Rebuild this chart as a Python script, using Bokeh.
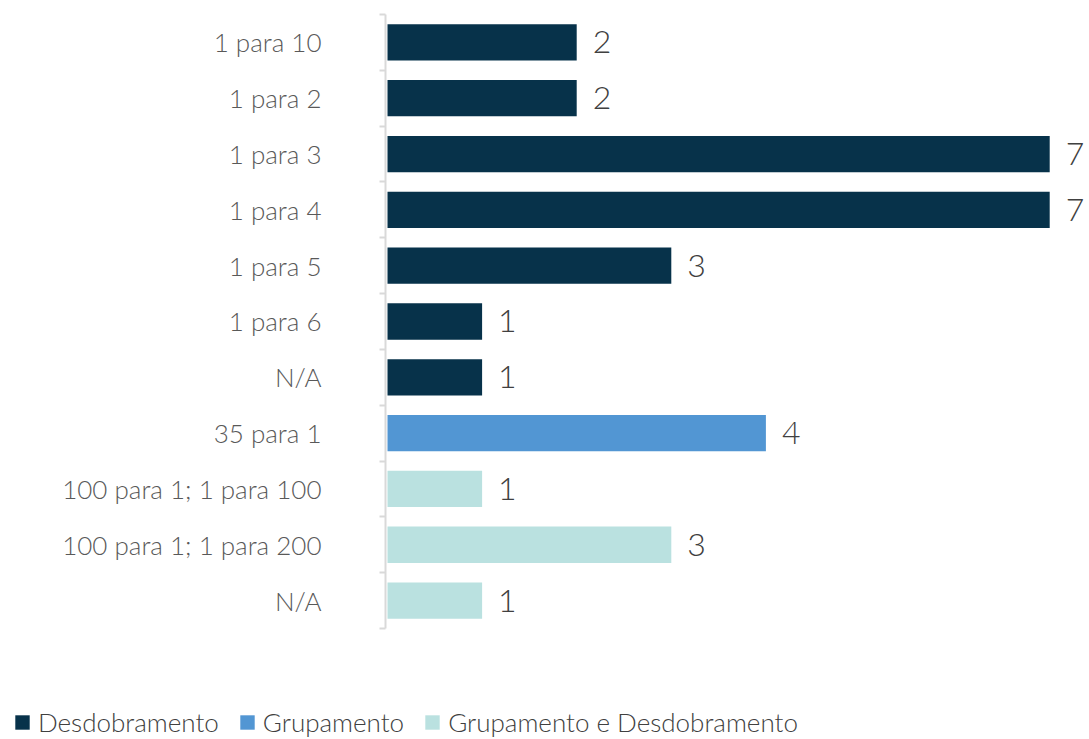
from bokeh.plotting import figure
from bokeh.models import ColumnDataSource, Range1d, LinearAxis, FixedTicker, Legend
from bokeh.embed import file_html
from bokeh.resources import INLINE
from bokeh.core.properties import value

categories = ["1 para 10", "1 para 2", "1 para 3", "1 para 4", "1 para 5", "1 para 6", "N/A",
              "35 para 1", "100 para 1; 1 para 100", "100 para 1; 1 para 200", "N/A"]
values = [2, 2, 7, 7, 3, 1, 1, 4, 1, 3, 1]
groups = ["Desdobramento"] * 7 + ["Grupamento"] + ["Grupamento e Desdobramento"] * 3
group_names = ["Desdobramento", "Grupamento", "Grupamento e Desdobramento"]
group_colors = ["#07324A", "#5296D3", "#BAE1E0"]

FONT = "Lato Light"
n = len(categories)
pos = [i + 0.5 for i in range(n)]

PX_X = 94.6   # px per unit on x
PX_Y = 55.8   # px per category
p = figure(width=1089, height=739, output_backend="svg", toolbar_location=None,
           x_range=Range1d(-387 / PX_X, (1089 - 387) / PX_X),
           y_range=Range1d(n + (739 - 628) / PX_Y, -14 / PX_Y),
           min_border=0)
p.outline_line_color = None
p.xgrid.visible = False
p.ygrid.visible = False
p.xaxis.visible = False
p.yaxis.visible = False

# tick axis (category boundaries)
ya = LinearAxis(ticker=FixedTicker(ticks=list(range(n + 1))), fixed_location=-2 / PX_X,
                bounds=(0, n))
ya.major_label_overrides = {i: "" for i in range(n + 1)}
ya.major_label_text_font_size = "1px"
ya.major_label_standoff = 0
ya.axis_line_color = "#D9D9D9"
ya.axis_line_width = 2
ya.major_tick_line_color = "#D9D9D9"
ya.major_tick_line_width = 2
ya.major_tick_out = 6
ya.major_tick_in = 0
ya.minor_tick_line_color = None
p.add_layout(ya, "left")

# label axis
la = LinearAxis(ticker=FixedTicker(ticks=pos), fixed_location=-2 / PX_X,
                major_label_overrides={pos[i]: categories[i] for i in range(n)})
la.axis_line_color = None
la.major_tick_line_color = None
la.minor_tick_line_color = None
la.major_label_standoff = 58
la.major_label_text_font = FONT
la.major_label_text_font_size = "26px"
la.major_label_text_color = "#595959"
p.add_layout(la, "left")

items = []
for g, c in zip(group_names, group_colors):
    idx = [i for i in range(n) if groups[i] == g]
    src = ColumnDataSource(dict(y=[pos[i] for i in idx], v=[values[i] for i in idx],
                                t=[str(values[i]) for i in idx]))
    r = p.hbar(y="y", right="v", left=0, height=0.65, source=src, fill_color=c, line_color=None)
    p.text(x="v", y="y", text="t", source=src, x_offset=16, text_align="left",
           text_baseline="middle", text_font=value(FONT), text_font_size="32px",
           text_color="#404040")
    items.append((g, [r]))

legend = Legend(items=items, orientation="horizontal", location=(13, 1),
                label_text_font=FONT, label_text_font_size="26px", label_text_color="#404040",
                glyph_width=18, glyph_height=18, label_standoff=7, spacing=19, label_height=24,
                padding=0, margin=0, border_line_color=None, background_fill_alpha=0)
p.add_layout(legend, "center")

open("out.html", "w").write(file_html(p, INLINE))
